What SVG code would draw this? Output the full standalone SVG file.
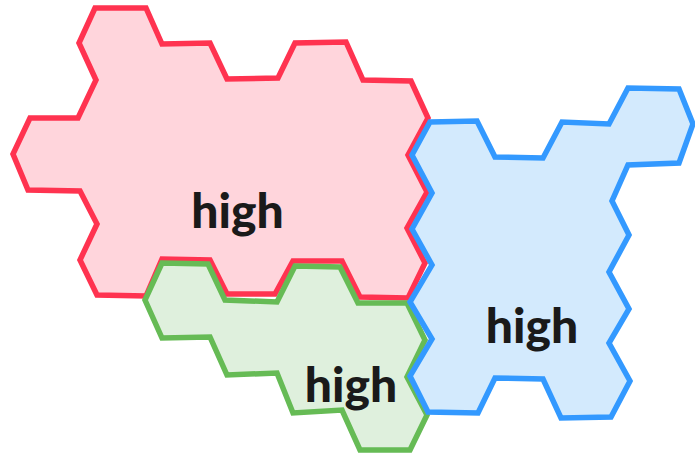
<svg xmlns="http://www.w3.org/2000/svg" width="695" height="455" viewBox="0 0 695 455">
<style>
.reg{stroke-width:5.5;stroke-linejoin:miter;stroke-miterlimit:4}
.red{fill:#ffd5dc;stroke:#ff3350}
.green{fill:#dff0dd;stroke:#66bb55}
.blue{fill:#d3eafd;stroke:#3399ff}
.lbl{font-family:Lato,"Open Sans","DejaVu Sans",sans-serif;font-weight:900;font-size:48px;fill:#1a1a1a;text-anchor:middle}
</style>
<rect width="695" height="455" fill="#ffffff"/>
<g id="region-red">
<polygon class="reg red" points="95,8 146,8 162,44 210,43 227,79 278,78 295,43 346,42 363,80 411,81 428,118 408,155 427,192 407,228 425,263 408,298 360,297 342,261 293,261 275,294 227,294 210,260 162,259 146,296 97,295 80,260 97,224 80,191 28,190 13,154 30,118 78,118 96,80 79,43"/>
<text class="lbl" x="237.5" y="228">high</text>
</g>
<g id="region-green">
<polygon class="reg green" points="145,300 162,263 208,264 225,300 277,302 295,266 340,267 358,303 407,303 425,340 407,377 427,415 410,450 360,450 342,410 293,413 277,373 227,375 210,337 162,338"/>
<text class="lbl" x="351" y="402">high</text>
</g>
<g id="region-blue">
<polygon class="reg blue" points="430,122 477,121 495,157 543,158 562,122 609,124 628,88 679,89 693,124 679,163 628,165 612,201 629,235 609,272 629,309 609,343 630,381 611,417 561,418 543,379 495,378 478,413 428,412 410,376 432,339 410,302 432,265 412,229 432,193 412,155"/>
<text class="lbl" x="532" y="343">high</text>
</g>
</svg>
